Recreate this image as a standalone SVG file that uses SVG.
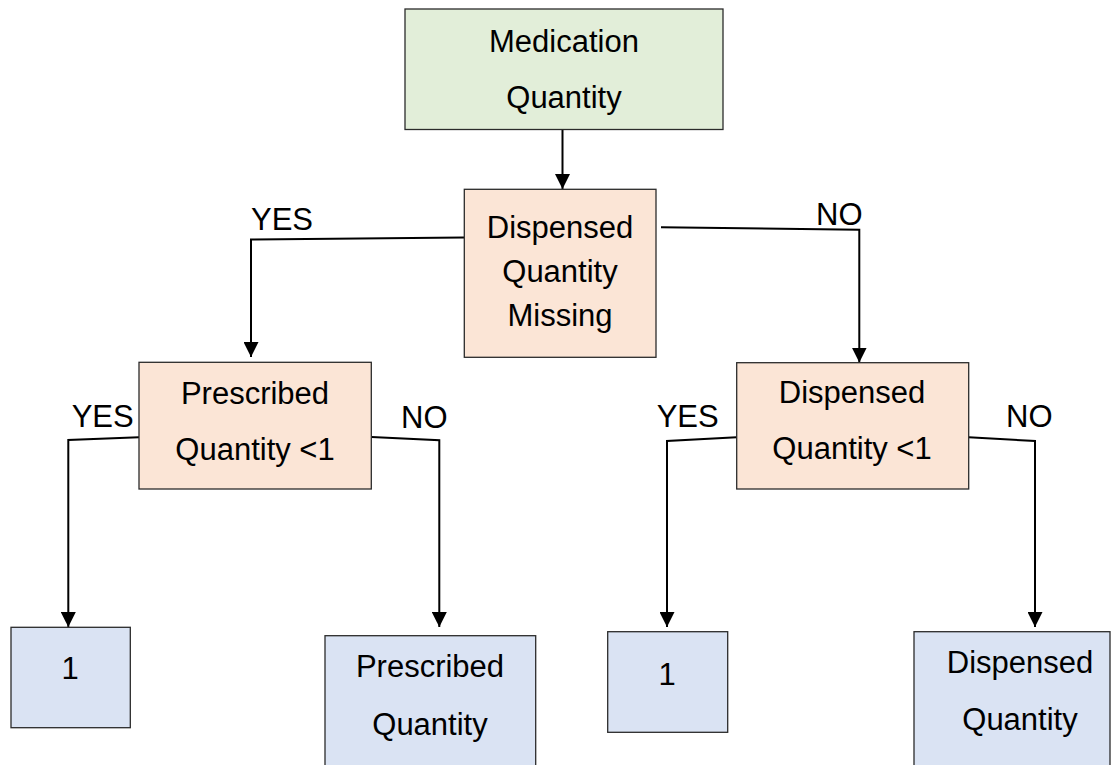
<svg xmlns="http://www.w3.org/2000/svg" width="1112" height="765" viewBox="0 0 1112 765">
  <style>
    .box { stroke: #2b2b2b; stroke-width: 1.3; }
    .green { fill: #e2eed9; }
    .peach { fill: #fbe5d6; }
    .blue { fill: #dae3f3; }
    text { font-family: "Liberation Sans", Arial, Helvetica, sans-serif; font-size: 31px; fill: #000; }
    .c { text-anchor: middle; }
    .conn { fill: none; stroke: #000; stroke-width: 2; }
  </style>
  <defs>
    <marker id="arrow" markerUnits="userSpaceOnUse" markerWidth="15" markerHeight="15" viewBox="0 0 15 15" refX="15" refY="7.5" orient="auto">
      <path d="M0,0 L15,7.5 L0,15 Z" fill="#000"/>
    </marker>
  </defs>
  <rect width="1112" height="765" fill="#fff"/>

  <g id="connectors">
    <path class="conn" d="M562.5,130 L562.5,189" marker-end="url(#arrow)"/>
    <path class="conn" d="M464,237.5 L251,239.5 L251,357" marker-end="url(#arrow)"/>
    <path class="conn" d="M661,227.3 L859.3,229.7 L859.3,362.5" marker-end="url(#arrow)"/>
    <path class="conn" d="M139,437.3 L68.3,440 L68.3,627" marker-end="url(#arrow)"/>
    <path class="conn" d="M371.5,437 L439.3,440.3 L439.3,627" marker-end="url(#arrow)"/>
    <path class="conn" d="M736.7,437.3 L667,441 L667,627" marker-end="url(#arrow)"/>
    <path class="conn" d="M968.7,437.3 L1035,441 L1035,627" marker-end="url(#arrow)"/>
    <text x="251" y="230">YES</text>
    <text x="816" y="224.5">NO</text>
    <text x="71.7" y="427.3">YES</text>
    <text x="401" y="428">NO</text>
    <text x="656.7" y="427.3">YES</text>
    <text x="1006" y="427.3">NO</text>
  </g>

  <g id="node-medication-quantity">
    <rect class="box green" x="405" y="9" width="318" height="120.5"/>
    <text class="c" x="564" y="52">Medication</text>
    <text class="c" x="564" y="108">Quantity</text>
  </g>

  <g id="node-dispensed-missing">
    <rect class="box peach" x="464.3" y="189.3" width="191.7" height="168"/>
    <text class="c" x="560" y="237.7">Dispensed</text>
    <text class="c" x="560" y="281.7">Quantity</text>
    <text class="c" x="560" y="325.7">Missing</text>
  </g>

  <g id="node-prescribed-lt1">
    <rect class="box peach" x="139" y="362.3" width="232.3" height="126.7"/>
    <text class="c" x="255" y="404">Prescribed</text>
    <text class="c" x="255" y="460">Quantity &lt;1</text>
  </g>

  <g id="node-dispensed-lt1">
    <rect class="box peach" x="736.7" y="362.7" width="232" height="126.3"/>
    <text class="c" x="852" y="403.3">Dispensed</text>
    <text class="c" x="852" y="459.3">Quantity &lt;1</text>
  </g>

  <g id="node-one-left">
    <rect class="box blue" x="11" y="627.3" width="119.3" height="100.4"/>
    <text class="c" x="70" y="679.3">1</text>
  </g>

  <g id="node-prescribed-quantity">
    <rect class="box blue" x="325" y="635.7" width="210.7" height="140"/>
    <text class="c" x="430" y="676.7">Prescribed</text>
    <text class="c" x="430" y="735">Quantity</text>
  </g>

  <g id="node-one-right">
    <rect class="box blue" x="607.7" y="631.7" width="120" height="100.6"/>
    <text class="c" x="667" y="685">1</text>
  </g>

  <g id="node-dispensed-quantity">
    <rect class="box blue" x="914" y="631.7" width="196" height="145"/>
    <text class="c" x="1020" y="673.3">Dispensed</text>
    <text class="c" x="1020" y="730">Quantity</text>
  </g>
</svg>
